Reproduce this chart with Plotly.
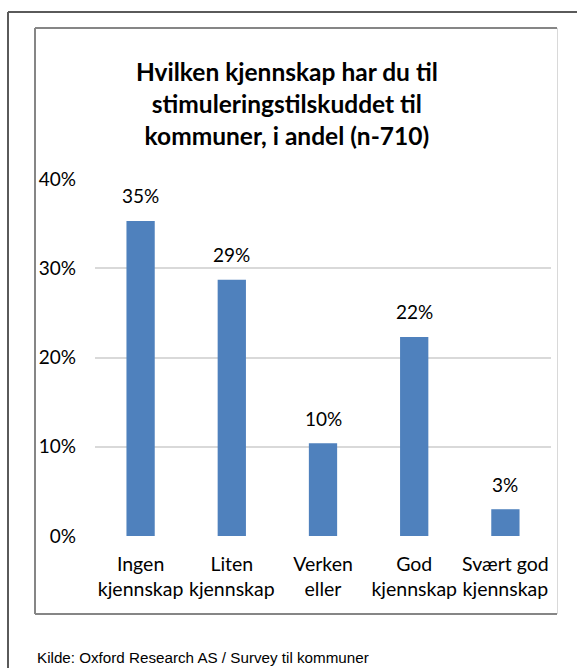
import plotly.graph_objects as go

categories = ["Ingen<br>kjennskap", "Liten<br>kjennskap", "Verken<br>eller", "God<br>kjennskap", "Svært god<br>kjennskap"]
values = [0.353, 0.287, 0.104, 0.223, 0.030]
y_ticks = [0, 0.1, 0.2, 0.3, 0.4]
y_tick_labels = ["0%", "10%", "20%", "30%", "40%"]
title_text = "Hvilken kjennskap har du til<br>stimuleringstilskuddet til<br>kommuner, i andel (n-710)"
source_text = "Kilde: Oxford Research AS / Survey til kommuner"

W, H = 577, 668
FONT = "Lato, Carlito, Calibri, Liberation Sans, sans-serif"

def px(x):
    return x / W

def py(y):
    return 1 - y / H

fig = go.Figure()
fig.add_trace(go.Bar(
    x=categories, y=values,
    marker=dict(color="#4f81bd", line=dict(width=0)),
    hoverinfo="skip",
))

for c, v in zip(categories, values):
    fig.add_annotation(
        x=c, y=v, xref="x", yref="y",
        text=f"{round(v * 100)}%", showarrow=False,
        yanchor="middle", yshift=25,
        font=dict(family=FONT, size=19, color="#000000"),
    )

fig.update_layout(
    template="none",
    width=W, height=H,
    autosize=False,
    margin=dict(l=0, r=0, t=0, b=0, pad=0, autoexpand=False),
    paper_bgcolor="white", plot_bgcolor="white",
    showlegend=False,
    bargap=0.69,
    font=dict(family=FONT, size=19, color="#000000"),
    xaxis=dict(
        domain=[px(95), px(551)],
        automargin=False,
        showgrid=False, showline=False, zeroline=False,
        ticks="", tickfont=dict(family=FONT, size=19.5, color="#000000"),
        ticklabelstandoff=14,
    ),
    yaxis=dict(
        domain=[py(536), py(179)],
        automargin=False,
        range=[0, 0.4],
        tickvals=y_ticks, ticktext=y_tick_labels,
        showgrid=True, gridcolor="#d9d9d9", gridwidth=1.5,
        zeroline=False, showline=False, ticks="",
        tickfont=dict(family=FONT, size=19, color="#000000"),
        ticklabelstandoff=18,
    ),
)

# title
fig.add_annotation(
    x=px(287), y=py(103), xref="paper", yref="paper",
    text="<b>" + title_text + "</b>", showarrow=False,
    xanchor="center", yanchor="middle", align="center",
    font=dict(family=FONT, size=24.5, color="#000000"),
)
# source
fig.add_annotation(
    x=px(35), y=py(657), xref="paper", yref="paper",
    text=source_text, showarrow=False,
    xanchor="left", yanchor="middle", align="left",
    font=dict(family="Liberation Sans Narrow, Arial Narrow, Liberation Sans, sans-serif", size=15.2, color="#000000"),
)

# outer frame (left and top)
fig.add_shape(type="line", xref="paper", yref="paper", x0=px(8), x1=px(8), y0=py(12), y1=py(670),
              line=dict(color="#5a5a5a", width=2))
fig.add_shape(type="line", xref="paper", yref="paper", x0=px(8), x1=px(580), y0=py(12), y1=py(12),
              line=dict(color="#5a5a5a", width=2))
# inner chart box
fig.add_shape(type="line", xref="paper", yref="paper", x0=px(35), x1=px(35), y0=py(28), y1=py(614),
              line=dict(color="#868686", width=2))
fig.add_shape(type="line", xref="paper", yref="paper", x0=px(35), x1=px(557), y0=py(28), y1=py(28),
              line=dict(color="#868686", width=2))
fig.add_shape(type="line", xref="paper", yref="paper", x0=px(35), x1=px(557), y0=py(614), y1=py(614),
              line=dict(color="#868686", width=2))
fig.add_shape(type="line", xref="paper", yref="paper", x0=px(557.5), x1=px(557.5), y0=py(28), y1=py(614),
              line=dict(color="#d9d9d9", width=1))

fig.write_html(
    "out.html",
    config={"displayModeBar": False},
    post_script="document.body.style.margin='0';document.body.style.padding='0';document.body.style.overflow='hidden';",
)
